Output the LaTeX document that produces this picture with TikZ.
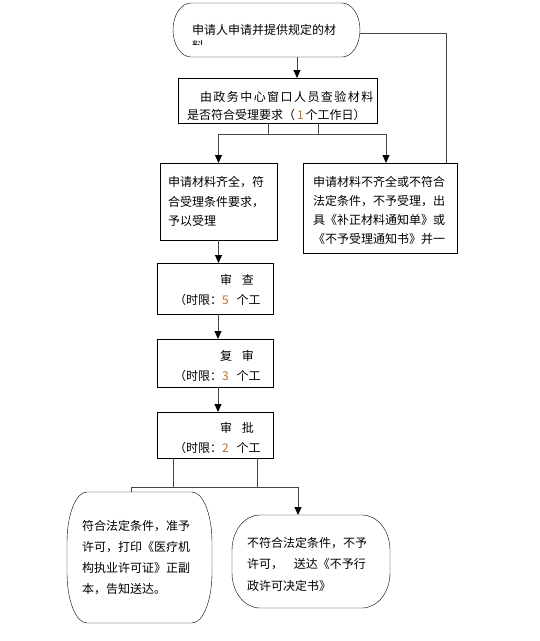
\documentclass[tikz,border=0pt]{standalone}
\usepackage{fontspec}
\usepackage{tikz}
\usetikzlibrary{arrows.meta}
\usepackage{xcolor}
\newfontfamily\cjk{Noto Sans CJK SC}
\newfontfamily\cjklarge[LetterSpace=12]{Noto Sans CJK SC}
\definecolor{cgris}{RGB}{70,70,70}
\definecolor{corange}{RGB}{190,110,40}
\hfuzz=60pt
\hbadness=10000
\newcommand{\haut}[1]{\rule{0pt}{#1}}
\newcommand{\ovale}[3]{%
  \draw ([xshift=#2]#1.north west) -- ([xshift=-#2]#1.north east)
    arc[start angle=90,end angle=0,x radius=#2,y radius=#3]
    -- ([yshift=#3]#1.south east)
    arc[start angle=0,end angle=-90,x radius=#2,y radius=#3]
    -- ([xshift=#2]#1.south west)
    arc[start angle=270,end angle=180,x radius=#2,y radius=#3]
    -- ([yshift=-#3]#1.north west)
    arc[start angle=180,end angle=90,x radius=#2,y radius=#3] -- cycle;}

\begin{document}
\begin{tikzpicture}[x=1pt, y=1pt, >={Triangle[width=7pt,length=8pt,color=black]},
  txt/.style={font=\cjk\fontsize{12}{#1}\selectfont, align=left, inner ysep=0pt, outer sep=0pt},
  txt/.default=19.5,
  boite/.style={draw, line width=0.6pt},
  lien/.style={cgris, line width=1pt}]
\useasboundingbox (0,0) rectangle (540,-641);
\begin{scope}
\clip (173,-3) rectangle (360,-44);
\node[txt=16, minimum width=187, minimum height=54, text width=149, inner xsep=19] (dem) at (266.5,-30)
  {\haut{26pt}申请人申请并提供规定的材\\料};
\end{scope}
\ovale{dem}{18pt}{27pt}
\node[txt=18, boite, minimum width=199, minimum height=45, text width=181, inner xsep=9] (ver) at (277.5,-100.5)
  {\haut{21pt}\hspace*{13pt}{\cjklarge 由政务中心窗口人员查验材料}\\是否符合受理要求（\hspace{2pt}\textcolor{corange}{1}\hspace{2pt}个工作日）};
\node[txt, boite, minimum width=117, minimum height=77, text width=101, inner xsep=8] (acc) at (218.5,-201.5)
  {申请材料齐全，符\\合受理条件要求，\\予以受理};
\node[txt=19, boite, minimum width=154, minimum height=90, text width=134, inner xsep=10] (ref) at (380,-208)
  {\haut{15pt}申请材料不齐全或不符合\\法定条件，不予受理，出\\具《补正材料通知单》或\\《不予受理通知书》并一};
\foreach \n/\y/\h/\v/\a/\b/\c in {exa/-288.5/51/13/审/查/5, rev/-363/48/16/复/审/3, app/-435/46/16/审/批/2}
  {\node[txt=20, boite, minimum width=116, minimum height=\h, text width=82, inner xsep=17] (\n) at (215,\y)
    {\haut{\v pt}\hspace*{46pt}\a\hspace{10pt}\b\\\mbox{（时限：\textcolor{corange}{\c}\hspace{8pt}个工}};}
\node[txt=21, minimum width=145, minimum height=131, text width=115, inner xsep=15] (oui) at (139.5,-557.5)
  {符合法定条件，准予\\许可，打印《医疗机\\构执业许可证》正副\\本，告知送达。};
\ovale{oui}{20pt}{50pt}
\node[txt=21.5, minimum width=158, minimum height=93, text width=128, inner xsep=15] (non) at (311,-561.5)
  {\haut{16pt}不符合法定条件，不予\\许可，\hspace{11pt}送达《不予行\\政许可决定书》};
\ovale{non}{28pt}{35pt}
\coordinate (sep) at (0,-134);
\coordinate (jonc) at (0,-487);
\draw[lien,->] ([xshift=30.5pt]dem.south) -- ([xshift=30.5pt]dem.south |- ver.north);
\draw[lien] ([yshift=-3pt]dem.east) -| ([xshift=66pt]ref.north);
\draw[lien] ([xshift=-9.5pt]ver.south) -- ([xshift=-9.5pt]ver.south |- sep);
\draw[lien] ([xshift=40.5pt]ver.south) -- ([xshift=40.5pt]ver.south |- sep);
\draw[lien] (acc.north |- sep) -- ([xshift=6pt]ref.north |- sep);
\draw[lien,->] (acc.north |- sep) -- (acc.north);
\draw[lien,->] ([xshift=6pt]ref.north |- sep) -- ([xshift=6pt]ref.north);
\draw[lien,->] (acc.south) -- (acc.south |- exa.north);
\draw[lien,->] ([xshift=3pt]exa.south) -- ([xshift=3pt]rev.north);
\draw[lien,->] ([xshift=3pt]rev.south) -- ([xshift=3pt]app.north);
\draw[lien] ([xshift=-42pt]app.south) -- ([xshift=-42pt]app.south |- jonc);
\draw[lien] ([xshift=42pt]app.south) -- ([xshift=42pt]app.south |- jonc);
\draw[lien] ([xshift=-8.5pt]oui.north) |- ([xshift=-13pt]non.north |- jonc);
\draw[lien,->] ([xshift=-13pt]non.north |- jonc) -- ([xshift=-13pt]non.north);
\end{tikzpicture}
\end{document}
